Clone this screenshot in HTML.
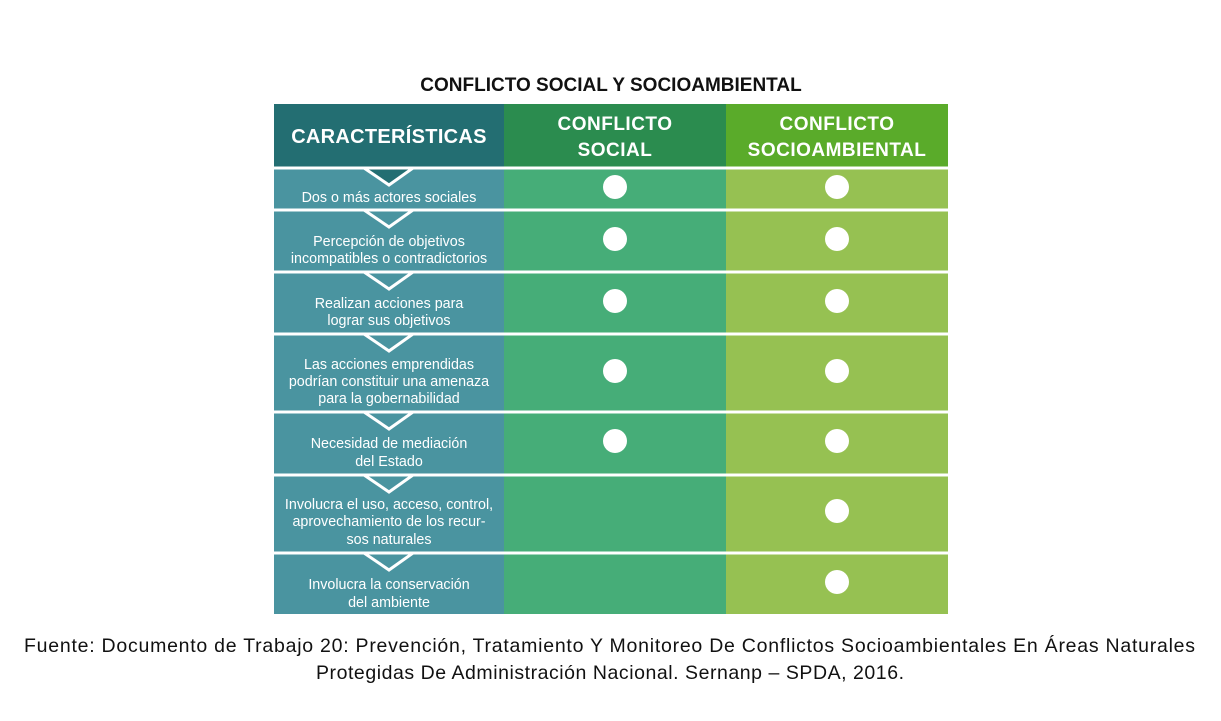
<!DOCTYPE html>
<html><head><meta charset="utf-8"><style>
html,body{margin:0;padding:0;background:#fff;width:1221px;height:721px;overflow:hidden}
svg{display:block}
text{font-family:"Liberation Sans",sans-serif}
</style></head><body>
<svg width="1221" height="721" viewBox="0 0 1221 721" xmlns="http://www.w3.org/2000/svg">
<text x="611" y="91" text-anchor="middle" font-size="19" font-weight="bold" fill="#111">CONFLICTO SOCIAL Y SOCIOAMBIENTAL</text>
<rect x="274" y="104" width="230" height="63" fill="#236e72"/>
<rect x="504" y="104" width="222" height="63" fill="#2b8c4f"/>
<rect x="726" y="104" width="222" height="63" fill="#5aab2a"/>
<rect x="274" y="167" width="230" height="447" fill="#4a94a0"/>
<rect x="504" y="167" width="222" height="447" fill="#46ad78"/>
<rect x="726" y="167" width="222" height="447" fill="#96c152"/>
<polygon points="364,168 389,185 413,168" fill="#236e72"/>
<g stroke="#fff" stroke-width="3" fill="none" stroke-linejoin="miter">
<line x1="274" y1="168" x2="948" y2="168"/>
<line x1="274" y1="210" x2="948" y2="210"/>
<line x1="274" y1="272" x2="948" y2="272"/>
<line x1="274" y1="334" x2="948" y2="334"/>
<line x1="274" y1="412" x2="948" y2="412"/>
<line x1="274" y1="475" x2="948" y2="475"/>
<line x1="274" y1="553" x2="948" y2="553"/>
<polyline points="364,168 389,185 413,168"/>
<polyline points="364,210 389,227 413,210"/>
<polyline points="364,272 389,289 413,272"/>
<polyline points="364,334 389,351 413,334"/>
<polyline points="364,412 389,429 413,412"/>
<polyline points="364,475 389,492 413,475"/>
<polyline points="364,553 389,570 413,553"/>
</g>
<g fill="#fff" font-weight="bold" text-anchor="middle">
<text x="389" y="143" font-size="20" letter-spacing="0.3">CARACTERÍSTICAS</text>
<text x="615" y="130" font-size="19" letter-spacing="0.5">CONFLICTO</text>
<text x="615" y="156" font-size="19" letter-spacing="0.5">SOCIAL</text>
<text x="837" y="130" font-size="19" letter-spacing="0.5">CONFLICTO</text>
<text x="837" y="156" font-size="19" letter-spacing="0.5">SOCIOAMBIENTAL</text>
</g>
<g fill="#fff" font-size="14.3" text-anchor="middle">
<text x="389" y="202">Dos o más actores sociales</text>
<text x="389" y="246">Percepción de objetivos</text>
<text x="389" y="263">incompatibles o contradictorios</text>
<text x="389" y="308">Realizan acciones para</text>
<text x="389" y="325">lograr sus objetivos</text>
<text x="389" y="369">Las acciones emprendidas</text>
<text x="389" y="386">podrían constituir una amenaza</text>
<text x="389" y="403">para la gobernabilidad</text>
<text x="389" y="448">Necesidad de mediación</text>
<text x="389" y="466">del Estado</text>
<text x="389" y="509">Involucra el uso, acceso, control,</text>
<text x="389" y="526">aprovechamiento de los recur-</text>
<text x="389" y="544">sos naturales</text>
<text x="389" y="589">Involucra la conservación</text>
<text x="389" y="607">del ambiente</text>
</g>
<g fill="#fff">
<circle cx="615" cy="187" r="12"/><circle cx="837" cy="187" r="12"/>
<circle cx="615" cy="239" r="12"/><circle cx="837" cy="239" r="12"/>
<circle cx="615" cy="301" r="12"/><circle cx="837" cy="301" r="12"/>
<circle cx="615" cy="371" r="12"/><circle cx="837" cy="371" r="12"/>
<circle cx="615" cy="441" r="12"/><circle cx="837" cy="441" r="12"/>
<circle cx="837" cy="511" r="12"/>
<circle cx="837" cy="582" r="12"/>
</g>
<g fill="#111" font-size="19.5">
<text x="24" y="652" textLength="1171" lengthAdjust="spacing">Fuente: Documento de Trabajo 20: Prevención, Tratamiento Y Monitoreo De Conflictos Socioambientales En Áreas Naturales</text>
<text x="316" y="679" textLength="588" lengthAdjust="spacing">Protegidas De Administración Nacional. Sernanp – SPDA, 2016.</text>
</g>
</svg>
</body></html>
